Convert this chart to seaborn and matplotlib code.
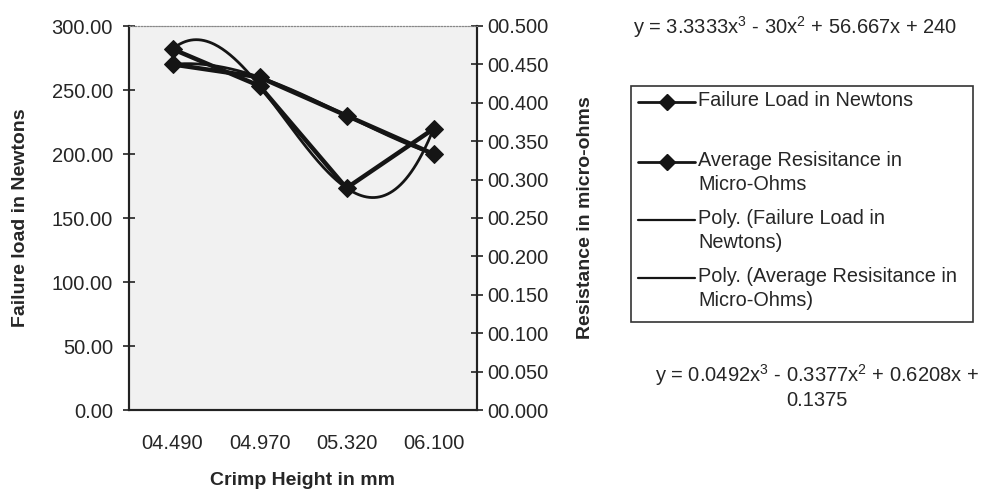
import numpy as np
import pandas as pd
import matplotlib
matplotlib.use("Agg")
import matplotlib.pyplot as plt
from matplotlib.lines import Line2D
from matplotlib.patches import Rectangle
import seaborn as sns

# ---- data ----
crimp_heights = ["04.490", "04.970", "05.320", "06.100"]
failure_load = [270.0, 260.0, 230.0, 200.0]
resistance = [0.470, 0.422, 0.289, 0.366]
left_ticks = [0, 50, 100, 150, 200, 250, 300]
right_ticks = [0.0, 0.05, 0.10, 0.15, 0.20, 0.25, 0.30, 0.35, 0.40, 0.45, 0.50]
legend_labels = ["Failure Load in Newtons",
                 "Average Resisitance in\nMicro-Ohms",
                 "Poly. (Failure Load in\nNewtons)",
                 "Poly. (Average Resisitance in\nMicro-Ohms)"]
eq_failure = "y = 3.3333x$^3$ - 30x$^2$ + 56.667x + 240"
eq_resist = "y = 0.0492x$^3$ - 0.3377x$^2$ + 0.6208x +\n0.1375"

sns.set_style("white")
plt.rcParams["font.family"] = ["Liberation Sans", "DejaVu Sans"]
plt.rcParams["mathtext.fontset"] = "custom"
plt.rcParams["mathtext.rm"] = "Liberation Sans"

df = pd.DataFrame({"pos": np.arange(len(crimp_heights)),
                   "failure": failure_load, "resistance": resistance})

fig = plt.figure(figsize=(9.85, 4.92), dpi=100)
ax = fig.add_axes([129 / 985, 1 - 410 / 492, 348 / 985, 384 / 492])
ax.set_facecolor("#f1f1f1")
ax2 = ax.twinx()

LC = "#151515"
sns.lineplot(data=df, x="pos", y="failure", ax=ax, color=LC, lw=3.2,
             marker="D", markersize=9, markeredgecolor=LC, markerfacecolor=LC,
             legend=False)
sns.lineplot(data=df, x="pos", y="resistance", ax=ax2, color=LC, lw=3.2,
             marker="D", markersize=9, markeredgecolor=LC, markerfacecolor=LC,
             legend=False)

# polynomial (order 3) trendlines, as Excel computes them, x = 1..n
xs = np.arange(1, len(crimp_heights) + 1)
xf = np.linspace(1, len(crimp_heights), 200)
cf = np.polyfit(xs, failure_load, 3)
cr = np.polyfit(xs, resistance, 3)
ax.plot(xf - 1, np.polyval(cf, xf), color=LC, lw=2.0, zorder=3)
ax2.plot(xf - 1, np.polyval(cr, xf), color=LC, lw=2.0, zorder=3)

ax.set_xlim(-0.5, len(crimp_heights) - 0.5)
ax.set_ylim(0, 300)
ax2.set_ylim(0, 0.5)

ax.set_yticks(left_ticks)
ax.set_yticklabels([f"{v:.2f}" for v in left_ticks], fontsize=14.5)
ax2.set_yticks(right_ticks)
ax2.set_yticklabels([f"{v:06.3f}" for v in right_ticks], fontsize=14.5)

ax.set_xticks(np.arange(len(crimp_heights) + 1) - 0.5)
ax.set_xticklabels([])
ax.set_xticks(np.arange(len(crimp_heights)), minor=True)
ax.set_xticklabels(crimp_heights, minor=True, fontsize=14.5)
ax.tick_params(axis="x", which="minor", length=0, pad=17)
ax.tick_params(axis="x", which="major", direction="inout", length=9, width=1.2, color="#222")
ax.tick_params(axis="y", direction="inout", length=9, width=1.2, color="#222", pad=7)
ax2.tick_params(axis="y", direction="inout", length=9, width=1.2, color="#222", pad=3)

for a in (ax, ax2):
    for s in a.spines.values():
        s.set_color("#222")
        s.set_linewidth(1.5)
    a.spines["top"].set_color("#888")
    a.spines["top"].set_linewidth(0.8)
    a.spines["top"].set_linestyle(":")

ax.set_xlabel("Crimp Height in mm", fontsize=14, fontweight="bold", labelpad=14)
ax.set_ylabel("Failure load in Newtons", fontsize=14, fontweight="bold", labelpad=16)
ax2.set_ylabel("Resistance in micro-ohms", fontsize=14, fontweight="bold", labelpad=20)

# trendline equations
fig.text(795 / 985, 1 - 27 / 492, eq_failure, fontsize=14.5, ha="center", va="center")
fig.text(817 / 985, 1 - 386 / 492, eq_resist, fontsize=14.5, ha="center", va="center",
         linespacing=1.2)

# legend box (Excel style)
fig.add_artist(Rectangle((631 / 985, 1 - 322 / 492), 342 / 985, 236 / 492,
                         transform=fig.transFigure, facecolor="white",
                         edgecolor="#333", lw=1.2))
entry_y = [102, 162, 220, 278]
has_marker = [True, True, False, False]
for lab, yy, mk in zip(legend_labels, entry_y, has_marker):
    yf = 1 - yy / 492
    fig.add_artist(Line2D([638 / 985, 695 / 985], [yf, yf], transform=fig.transFigure,
                          color=LC, lw=2.0 if mk else 1.6))
    if mk:
        fig.add_artist(Line2D([667 / 985], [yf], transform=fig.transFigure,
                              color=LC, marker="D", markersize=8, lw=0,
                              markerfacecolor=LC, markeredgecolor=LC))
    fig.text(698 / 985, yf + 11 / 492, lab, fontsize=14.3, ha="left", va="top",
             linespacing=1.35)

fig.savefig("out.png", dpi=100, facecolor="white")
